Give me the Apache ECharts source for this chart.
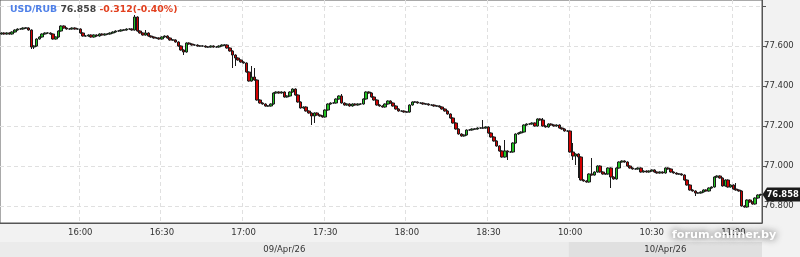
<!DOCTYPE html>
<html><head><meta charset="utf-8">
<script src="https://cdn.jsdelivr.net/npm/echarts@6/dist/echarts.min.js"></script>
<style>html,body{margin:0;padding:0;background:#f2f2f2}#c{width:800px;height:257px}</style>
</head><body><div id="c"></div>
<script>
const sessions = [['15:31','18:59'],['10:00','11:10']];
const dayLabels = ['09/Apr/26','10/Apr/26'];
const symbol = 'USD/RUB', lastPrice = '76.858', change = '-0.312(-0.40%)';
const watermark = 'forum.onliner.by';
const yTickValues = [76.8, 77.0, 77.2, 77.4, 77.6, 77.8];
const yLabelValues = [76.8, 77.0, 77.2, 77.4, 77.6];

const opens = [
77.660,77.665,77.660,77.665,77.660,77.670,77.680,77.685,77.685,77.690,
77.690,77.680,77.595,77.600,77.635,77.645,77.660,77.665,77.665,77.660,
77.635,77.645,77.675,77.700,77.690,77.685,77.685,77.690,77.685,77.685,
77.665,77.650,77.650,77.655,77.645,77.655,77.650,77.660,77.655,77.660,
77.660,77.665,77.670,77.675,77.675,77.680,77.680,77.685,77.685,77.680,
77.745,77.675,77.665,77.655,77.665,77.650,77.645,77.640,77.640,77.635,
77.645,77.650,77.640,77.630,77.630,77.620,77.600,77.580,77.570,77.615,
77.610,77.605,77.605,77.600,77.600,77.600,77.595,77.595,77.600,77.595,
77.595,77.600,77.605,77.605,77.590,77.575,77.555,77.540,77.530,77.520,
77.515,77.470,77.425,77.445,77.430,77.330,77.315,77.310,77.300,77.300,
77.310,77.365,77.370,77.365,77.370,77.345,77.350,77.370,77.385,77.355,
77.320,77.290,77.295,77.275,77.265,77.250,77.265,77.255,77.250,77.245,
77.280,77.310,77.315,77.315,77.335,77.350,77.315,77.305,77.310,77.300,
77.310,77.305,77.310,77.310,77.335,77.370,77.365,77.345,77.330,77.305,
77.300,77.295,77.310,77.325,77.315,77.300,77.285,77.275,77.275,77.270,
77.270,77.305,77.320,77.320,77.315,77.315,77.310,77.310,77.305,77.305,
77.300,77.300,77.295,77.285,77.275,77.260,77.240,77.215,77.185,77.160,
77.150,77.155,77.180,77.180,77.185,77.185,77.190,77.190,77.190,77.195,
77.165,77.145,77.125,77.100,77.075,77.045,77.075,77.070,77.070,77.115,
77.160,77.165,77.170,77.205,77.210,77.210,77.215,77.200,77.235,77.230,
77.200,77.195,77.210,77.205,77.200,77.205,77.190,77.185,77.175,77.175,
77.070,77.050,77.060,77.045,76.930,76.925,76.920,76.960,76.955,76.970,
77.000,76.970,76.960,76.960,76.990,76.945,76.935,76.990,77.020,77.025,
77.020,77.000,76.990,76.985,76.985,76.990,76.970,76.975,76.970,76.975,
76.980,76.970,76.965,76.970,76.965,76.990,76.985,76.970,76.965,76.960,
76.960,76.955,76.930,76.905,76.880,76.875,76.865,76.865,76.870,76.880,
76.875,76.890,76.895,76.945,76.950,76.940,76.900,76.930,76.895,76.905,
76.885,76.880,76.875,76.800,76.795,76.830,76.820,76.810,76.840,76.855
];
const closes = [
77.665,77.660,77.665,77.660,77.670,77.680,77.685,77.685,77.690,77.690,
77.680,77.595,77.600,77.635,77.645,77.660,77.665,77.665,77.660,77.635,
77.645,77.675,77.700,77.690,77.685,77.685,77.690,77.685,77.685,77.665,
77.650,77.650,77.655,77.645,77.655,77.650,77.660,77.655,77.660,77.660,
77.665,77.670,77.675,77.675,77.680,77.680,77.685,77.685,77.680,77.745,
77.675,77.665,77.655,77.665,77.650,77.645,77.640,77.640,77.635,77.645,
77.650,77.640,77.630,77.630,77.620,77.600,77.580,77.570,77.615,77.610,
77.605,77.605,77.600,77.600,77.600,77.595,77.595,77.600,77.595,77.595,
77.600,77.605,77.605,77.590,77.575,77.555,77.540,77.530,77.520,77.515,
77.470,77.425,77.445,77.430,77.330,77.315,77.310,77.300,77.300,77.310,
77.365,77.370,77.365,77.370,77.345,77.350,77.370,77.385,77.355,77.320,
77.290,77.295,77.275,77.265,77.250,77.265,77.255,77.250,77.245,77.280,
77.310,77.315,77.315,77.335,77.350,77.315,77.305,77.310,77.300,77.310,
77.305,77.310,77.310,77.335,77.370,77.365,77.345,77.330,77.305,77.300,
77.295,77.310,77.325,77.315,77.300,77.285,77.275,77.275,77.270,77.270,
77.305,77.320,77.320,77.315,77.315,77.310,77.310,77.305,77.305,77.300,
77.300,77.295,77.285,77.275,77.260,77.240,77.215,77.185,77.160,77.150,
77.155,77.180,77.180,77.185,77.185,77.190,77.190,77.190,77.195,77.165,
77.145,77.125,77.100,77.075,77.045,77.075,77.070,77.070,77.115,77.160,
77.165,77.170,77.205,77.210,77.210,77.215,77.200,77.235,77.230,77.200,
77.195,77.210,77.205,77.200,77.205,77.190,77.185,77.175,77.175,77.070,
77.050,77.060,77.045,76.930,76.925,76.920,76.960,76.955,76.970,77.000,
76.970,76.960,76.960,76.990,76.945,76.935,76.990,77.020,77.025,77.020,
77.000,76.990,76.985,76.985,76.990,76.970,76.975,76.970,76.975,76.980,
76.970,76.965,76.970,76.965,76.990,76.985,76.970,76.965,76.960,76.960,
76.955,76.930,76.905,76.880,76.875,76.865,76.865,76.870,76.880,76.875,
76.890,76.895,76.945,76.950,76.940,76.900,76.930,76.895,76.905,76.885,
76.880,76.875,76.800,76.795,76.830,76.820,76.810,76.840,76.855,76.858
];
const lows = [
77.657,77.657,77.657,77.657,77.657,77.667,77.677,77.682,77.682,77.687,
77.677,77.585,77.585,77.597,77.632,77.642,77.657,77.662,77.657,77.632,
77.632,77.642,77.672,77.687,77.682,77.682,77.682,77.682,77.682,77.662,
77.647,77.647,77.647,77.642,77.642,77.647,77.647,77.652,77.652,77.657,
77.657,77.662,77.667,77.672,77.672,77.677,77.677,77.682,77.677,77.677,
77.672,77.662,77.652,77.652,77.647,77.642,77.637,77.637,77.632,77.632,
77.642,77.637,77.627,77.627,77.617,77.597,77.577,77.555,77.567,77.607,
77.602,77.602,77.597,77.597,77.597,77.592,77.592,77.592,77.592,77.592,
77.592,77.597,77.602,77.587,77.572,77.490,77.500,77.527,77.517,77.512,
77.467,77.422,77.422,77.427,77.327,77.312,77.307,77.297,77.297,77.297,
77.307,77.362,77.362,77.362,77.342,77.342,77.347,77.367,77.352,77.317,
77.287,77.287,77.272,77.262,77.205,77.215,77.252,77.247,77.242,77.242,
77.277,77.307,77.312,77.312,77.332,77.312,77.302,77.302,77.297,77.297,
77.302,77.302,77.307,77.307,77.332,77.362,77.342,77.327,77.302,77.297,
77.292,77.292,77.307,77.312,77.297,77.282,77.272,77.272,77.267,77.267,
77.267,77.302,77.317,77.312,77.312,77.307,77.307,77.302,77.302,77.297,
77.297,77.292,77.282,77.272,77.257,77.237,77.212,77.182,77.157,77.147,
77.147,77.152,77.177,77.177,77.182,77.182,77.187,77.187,77.187,77.162,
77.142,77.122,77.097,77.072,77.042,77.042,77.030,77.067,77.067,77.112,
77.157,77.162,77.167,77.202,77.207,77.207,77.197,77.197,77.227,77.197,
77.192,77.192,77.202,77.197,77.197,77.187,77.182,77.172,77.172,77.067,
77.030,77.005,76.940,76.927,76.922,76.917,76.917,76.952,76.952,76.967,
76.967,76.957,76.957,76.957,76.890,76.932,76.932,76.987,77.017,77.017,
76.997,76.987,76.982,76.982,76.982,76.967,76.967,76.967,76.967,76.972,
76.967,76.962,76.962,76.962,76.962,76.982,76.967,76.962,76.957,76.957,
76.952,76.927,76.902,76.877,76.872,76.850,76.862,76.862,76.867,76.872,
76.872,76.887,76.892,76.942,76.937,76.897,76.897,76.892,76.892,76.882,
76.877,76.872,76.797,76.792,76.792,76.817,76.807,76.807,76.837,76.852
];
const highs = [
77.668,77.668,77.668,77.668,77.673,77.683,77.688,77.688,77.693,77.693,
77.693,77.683,77.603,77.638,77.648,77.663,77.668,77.668,77.668,77.663,
77.648,77.678,77.703,77.703,77.693,77.688,77.693,77.693,77.688,77.688,
77.668,77.653,77.658,77.658,77.658,77.658,77.663,77.663,77.663,77.663,
77.668,77.673,77.678,77.678,77.683,77.683,77.688,77.688,77.688,77.755,
77.748,77.678,77.668,77.680,77.668,77.653,77.648,77.643,77.643,77.648,
77.653,77.653,77.643,77.633,77.633,77.623,77.603,77.583,77.618,77.618,
77.613,77.608,77.608,77.603,77.603,77.603,77.598,77.603,77.603,77.598,
77.603,77.608,77.608,77.608,77.593,77.578,77.558,77.543,77.533,77.523,
77.518,77.473,77.500,77.490,77.433,77.333,77.318,77.313,77.303,77.313,
77.368,77.373,77.373,77.373,77.373,77.353,77.373,77.388,77.388,77.358,
77.323,77.298,77.298,77.278,77.268,77.268,77.268,77.258,77.253,77.283,
77.313,77.318,77.318,77.338,77.353,77.360,77.318,77.313,77.313,77.313,
77.313,77.313,77.313,77.338,77.373,77.373,77.368,77.348,77.333,77.308,
77.303,77.313,77.328,77.328,77.318,77.303,77.288,77.278,77.278,77.273,
77.308,77.323,77.323,77.323,77.318,77.318,77.313,77.313,77.308,77.308,
77.303,77.303,77.298,77.288,77.278,77.263,77.243,77.218,77.188,77.163,
77.158,77.183,77.183,77.188,77.188,77.193,77.193,77.230,77.198,77.198,
77.168,77.148,77.128,77.103,77.078,77.130,77.078,77.073,77.118,77.163,
77.168,77.173,77.208,77.213,77.213,77.218,77.218,77.238,77.238,77.240,
77.203,77.213,77.213,77.208,77.208,77.208,77.193,77.188,77.178,77.178,
77.115,77.063,77.063,77.048,76.933,76.928,76.963,77.040,76.973,77.003,
77.003,76.973,76.963,76.993,76.993,76.948,76.993,77.023,77.028,77.028,
77.023,77.003,76.993,76.988,76.993,76.993,76.978,76.978,76.978,76.983,
76.983,76.973,76.973,76.973,76.993,76.993,76.988,76.973,76.968,76.963,
76.963,76.958,76.933,76.908,76.883,76.878,76.868,76.873,76.883,76.883,
76.893,76.898,76.948,76.953,76.953,76.943,76.933,76.933,76.908,76.908,
76.915,76.883,76.878,76.803,76.833,76.833,76.823,76.843,76.858,76.861
];

function pad(n){return (n<10?'0':'')+n;}
function toMin(s){const p=s.split(':');return +p[0]*60+ +p[1];}
const categories=[], dayOf=[];
sessions.forEach((s,d)=>{for(let t=toMin(s[0]);t<=toMin(s[1]);t++){categories.push(pad(Math.floor(t/60))+':'+pad(t%60));dayOf.push(d);}});
const candleData = categories.map((c,i)=>[opens[i],closes[i],lows[i],highs[i]]);
const isMark = (idx, val) => /:(00|30)$/.test(val);

const chart = echarts.init(document.getElementById('c'), null, {renderer:'canvas'});
const FONT = 'DejaVu Sans';
chart.setOption({
  animation:false,
  backgroundColor:'#f2f2f2',
  title:{
    left:10, top:5, padding:0,
    text:'{a|'+symbol+'} {b|'+lastPrice+'} {c|'+change+'}',
    textStyle:{fontSize:9.3,fontWeight:'bold',fontFamily:FONT,
      rich:{a:{color:'#4f80e8',fontSize:9.3,fontWeight:'bold',fontFamily:FONT},
            b:{color:'#444',fontSize:9.3,fontWeight:'bold',fontFamily:FONT},
            c:{color:'#e2401f',fontSize:9.3,fontWeight:'bold',fontFamily:FONT}}}
  },
  grid:{left:0,right:38,top:0,bottom:34,show:true,backgroundColor:'#fff',borderColor:'#555',borderWidth:1},
  xAxis:{type:'category',data:categories,boundaryGap:true,
    axisLine:{lineStyle:{color:'#555'}},
    axisTick:{interval:isMark,length:3,lineStyle:{color:'#555'}},
    axisLabel:{interval:isMark,fontSize:8.5,color:'#333',fontFamily:FONT,margin:5},
    splitLine:{show:true,interval:isMark,lineStyle:{color:'#e0e0e0',type:[4,3]}}},
  yAxis:{type:'value',position:'right',min:76.715,max:77.83,
    axisLine:{show:true,lineStyle:{color:'#555'}},
    axisTick:{show:true,length:4,customValues:yTickValues,lineStyle:{color:'#555'}},
    axisLabel:{fontSize:8.5,color:'#333',fontFamily:FONT,margin:2,customValues:yLabelValues,
      formatter:v=>v.toFixed(3)},
    splitLine:{show:true,lineStyle:{color:'#e0e0e0',type:[4,3]}}},
  series:[{type:'candlestick',data:candleData,barWidth:3,
    itemStyle:{color:'#22c322',color0:'#d40000',borderColor:'#1a1a1a',borderColor0:'#1a1a1a',borderColorDoji:'#1a1a1a',borderWidth:1}}]
});

// decorations positioned through the chart's own scales
const N = categories.length;
const x0 = chart.convertToPixel({xAxisIndex:0}, categories[0]);
const x1 = chart.convertToPixel({xAxisIndex:0}, categories[N-1]);
const band = (x1-x0)/(N-1);
const plotRight = x1+band/2;
const dayStart = [], dayEnd=[];
dayOf.forEach((d,i)=>{ if(dayStart[d]===undefined) dayStart[d]=i; dayEnd[d]=i; });
const graphics = [];
dayLabels.forEach((lab,d)=>{
  const xs = chart.convertToPixel({xAxisIndex:0}, categories[dayStart[d]]) - band/2;
  const xe = chart.convertToPixel({xAxisIndex:0}, categories[dayEnd[d]]) + band/2;
  graphics.push({type:'rect',shape:{x:xs,y:242,width:xe-xs,height:15},style:{fill:d===0?'#ebebeb':'#e0e0e0'},z:1,silent:true});
  graphics.push({type:'text',x:(xs+xe)/2,y:249.5,style:{text:lab,fill:'#333',font:'8.5px "DejaVu Sans"',align:'center',verticalAlign:'middle'},z:2});
});
const yLast = chart.convertToPixel({yAxisIndex:0}, closes[N-1]);
graphics.push({type:'polygon',shape:{points:[[plotRight+0.5,yLast],[plotRight+5,yLast-7],[800,yLast-7],[800,yLast+7],[plotRight+5,yLast+7]]},style:{fill:'#1a1a1a'},z:10});
graphics.push({type:'text',x:plotRight+4.5,y:yLast+0.5,style:{text:lastPrice,fill:'#fff',font:'bold 8.4px "DejaVu Sans"',verticalAlign:'middle'},z:11});
graphics.push({type:'text',x:672,y:235,style:{text:watermark,fill:'#fff',font:'bold 11.2px "DejaVu Sans"',verticalAlign:'middle',
  textShadowColor:'rgba(50,50,50,0.95)',textShadowBlur:7},z:12});
chart.setOption({graphic:graphics});
</script></body></html>
